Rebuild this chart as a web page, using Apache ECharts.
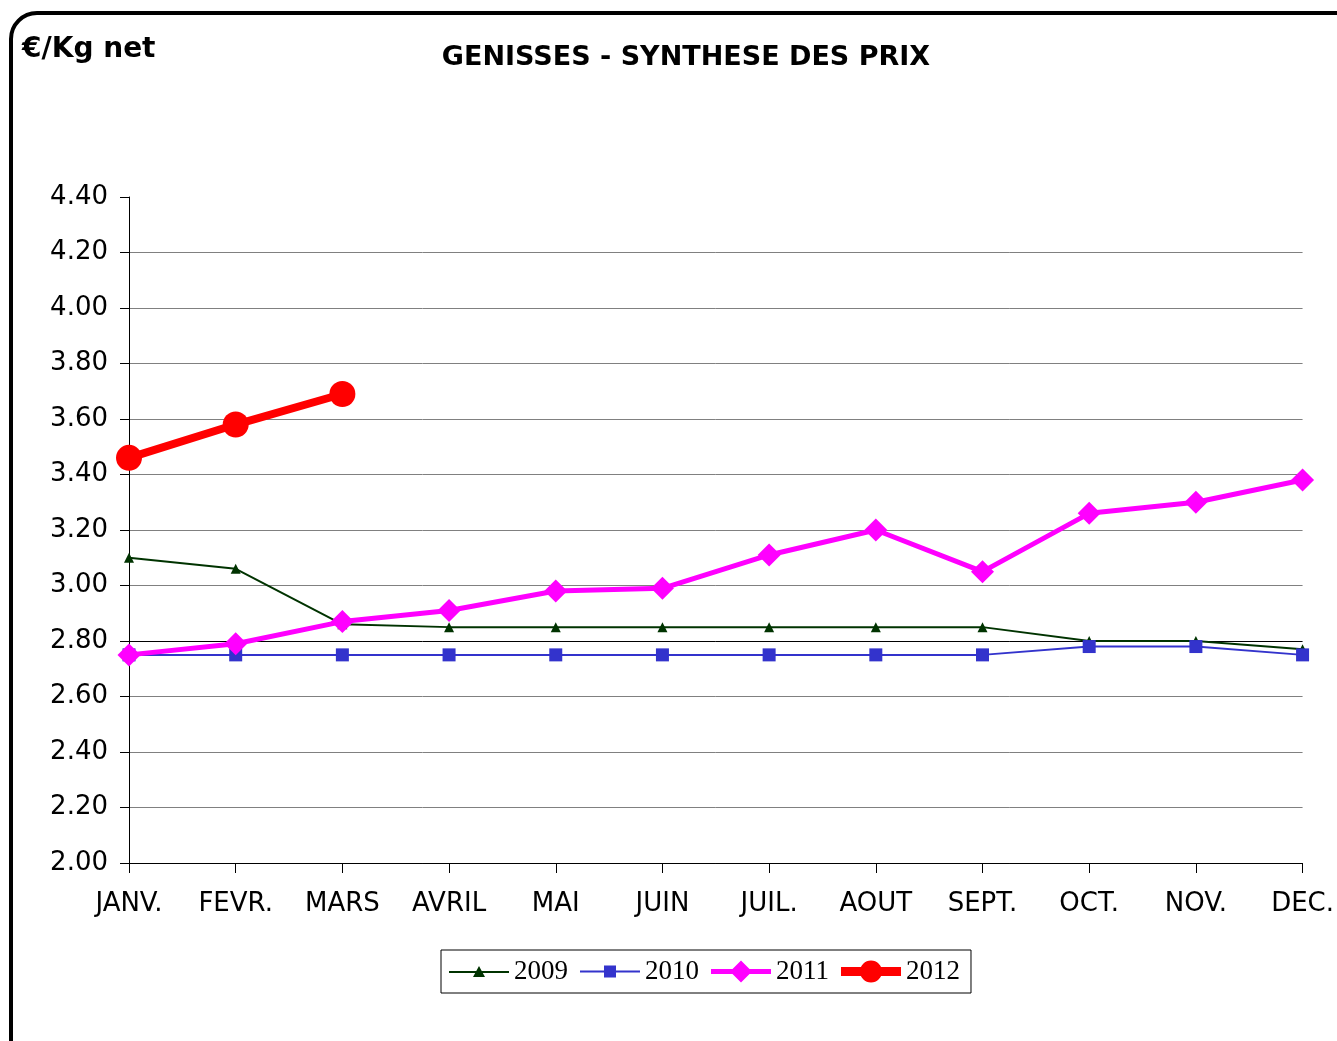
<!DOCTYPE html>
<html>
<head>
<meta charset="utf-8">
<script src="https://cdn.jsdelivr.net/npm/echarts@6/dist/echarts.min.js"></script>
<style>
  html, body { margin: 0; padding: 0; background: #fff; }
  #chart { width: 1337px; height: 1041px; }
</style>
</head>
<body>
<div id="chart"></div>
<script>
// months on the x axis
const months = ['JANV.', 'FEVR.', 'MARS', 'AVRIL', 'MAI', 'JUIN', 'JUIL.', 'AOUT', 'SEPT.', 'OCT.', 'NOV.', 'DEC.'];

// prices per year (€/Kg net)
const prix2009 = [3.10, 3.06, 2.86, 2.85, 2.85, 2.85, 2.85, 2.85, 2.85, 2.80, 2.80, 2.77];
const prix2010 = [2.75, 2.75, 2.75, 2.75, 2.75, 2.75, 2.75, 2.75, 2.75, 2.78, 2.78, 2.75];
const prix2011 = [2.75, 2.79, 2.87, 2.91, 2.98, 2.99, 3.11, 3.20, 3.05, 3.26, 3.30, 3.38];
const prix2012 = [3.46, 3.58, 3.69];

const chart = echarts.init(document.getElementById('chart'));

// grid line colours, one per tick from 2.00 up to 4.40 (top one hidden)
const gridColors = ['#000', '#808080', '#808080', '#808080', '#000', '#808080', '#808080',
    '#808080', '#808080', '#808080', '#808080', '#808080', 'transparent'];

// legend icons: line + marker, drawn in a 60x24 box
const legendIcons = {
    '2009': 'path://M0 11 L60 11 L60 13 L0 13 Z M24 17 L30 6 L36 17 Z',
    '2010': 'path://M0 11 L60 11 L60 13 L0 13 Z M24 6 L36 6 L36 18 L24 18 Z',
    '2011': 'path://M0 10 L60 10 L60 15 L0 15 Z M30 1.5 L41 12.5 L30 23.5 L19 12.5 Z',
    '2012': 'path://M0 8 L60 8 L60 17 L0 17 Z M19 12.5 A11 11 0 1 1 41 12.5 A11 11 0 1 1 19 12.5 Z'
};

chart.setOption({
    animation: false,
    backgroundColor: '#fff',
    graphic: [{
        type: 'rect',
        shape: { x: 11, y: 13, width: 1360, height: 1060, r: 26 },
        style: { fill: 'none', stroke: '#000', lineWidth: 4 },
        silent: true
    }, {
        type: 'text',
        left: 22, top: 36,
        style: { text: '€/Kg net', font: 'bold 28px "DejaVu Sans"', fill: '#000' }
    }],
    title: {
        text: 'GENISSES - SYNTHESE DES PRIX',
        left: 681, top: 39,
        textAlign: 'center',
        textStyle: { fontFamily: 'DejaVu Sans', fontWeight: 'bold', fontSize: 27, color: '#000' }
    },
    legend: {
        bottom: 48,
        left: 441,
        itemWidth: 60,
        itemHeight: 24,
        itemGap: 12,
        padding: [8, 11, 8, 8],
        borderColor: '#000',
        borderWidth: 1,
        borderRadius: 0,
        textStyle: { fontFamily: 'Liberation Serif', fontSize: 27, color: '#000' },
        data: ['2009', '2010', '2011', '2012'].map(n => ({ name: n, icon: legendIcons[n] }))
    },
    grid: { left: 129, right: 32, top: 197, bottom: 178, containLabel: false },
    xAxis: {
        type: 'category',
        data: months,
        boundaryGap: false,
        axisLine: { lineStyle: { color: '#000', width: 1 } },
        axisTick: { show: true, length: 10, lineStyle: { color: '#000' } },
        axisLabel: { color: '#000', fontFamily: 'DejaVu Sans', fontSize: 26, margin: 28 },
        splitLine: { show: false }
    },
    yAxis: {
        type: 'value',
        min: 2.0,
        max: 4.4,
        interval: 0.2,
        axisLine: { show: true, lineStyle: { color: '#000', width: 1 } },
        axisTick: { show: true, length: 9, lineStyle: { color: '#000' } },
        axisLabel: {
            color: '#000', fontFamily: 'DejaVu Sans', fontSize: 26, margin: 21,
            formatter: v => v.toFixed(2)
        },
        splitLine: { show: true, lineStyle: { color: gridColors, width: 1 } }
    },
    series: [{
        name: '2009',
        type: 'line',
        data: prix2009,
        symbol: 'triangle',
        symbolSize: 10,
        itemStyle: { color: '#003300' },
        lineStyle: { color: '#003300', width: 2 },
        z: 3
    }, {
        name: '2010',
        type: 'line',
        data: prix2010,
        symbol: 'rect',
        symbolSize: 13,
        itemStyle: { color: '#3333CC' },
        lineStyle: { color: '#3333CC', width: 2 },
        z: 4
    }, {
        name: '2011',
        type: 'line',
        data: prix2011,
        symbol: 'diamond',
        symbolSize: 23,
        itemStyle: { color: '#FF00FF' },
        lineStyle: { color: '#FF00FF', width: 5 },
        z: 5
    }, {
        name: '2012',
        type: 'line',
        data: prix2012,
        symbol: 'circle',
        symbolSize: 26,
        itemStyle: { color: '#FF0000' },
        lineStyle: { color: '#FF0000', width: 8 },
        z: 6
    }]
});
</script>
</body>
</html>
